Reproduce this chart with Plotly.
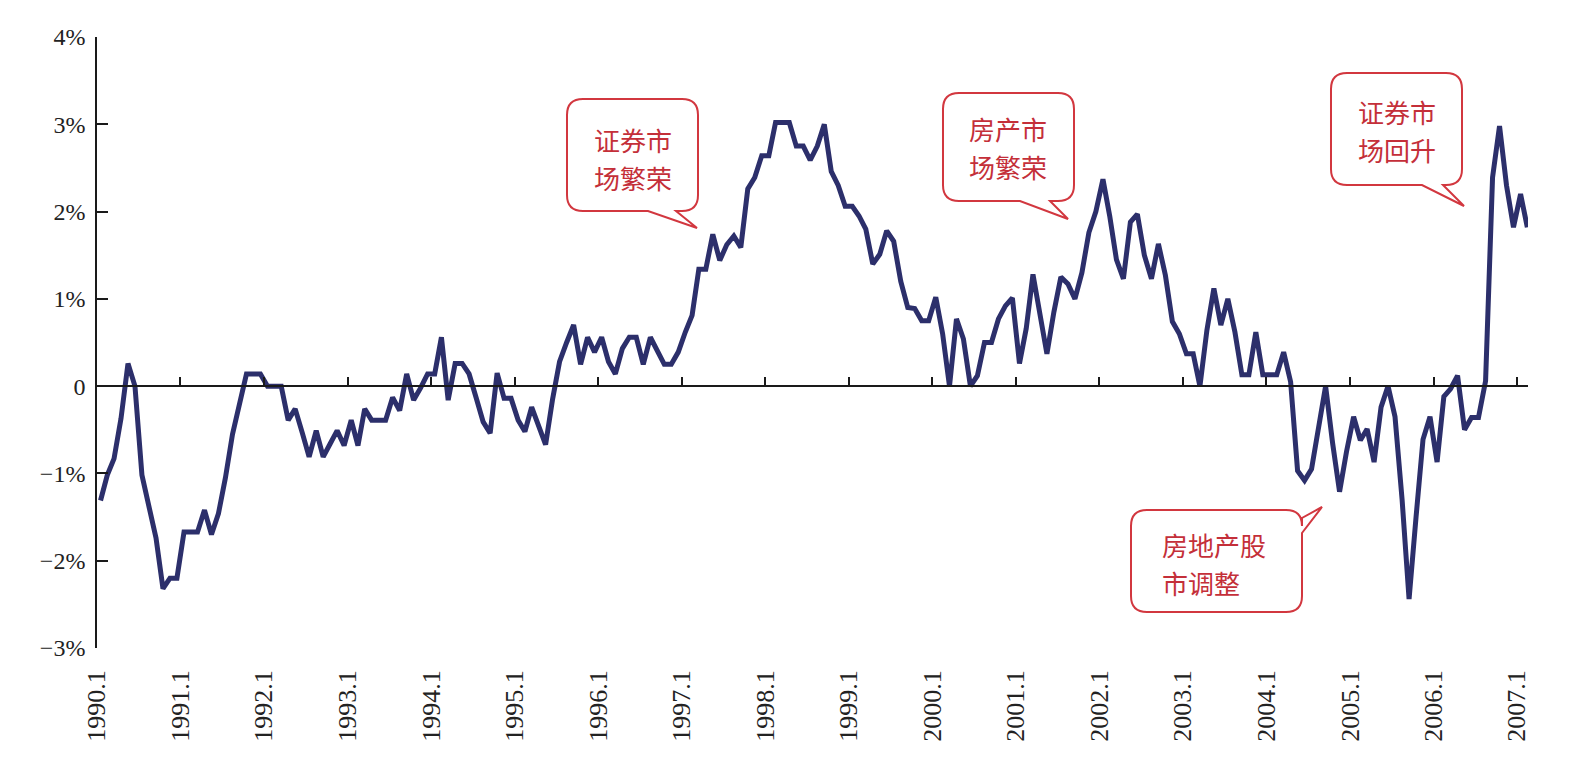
import plotly.graph_objects as go
import pandas as pd

# ---------------- data ----------------
start_month = "1990-01-01"
n_months = 206
values = [
    -1.31, -1.02, -0.83, -0.37, 0.26, 0.00, -1.02, -1.36, -1.74, -2.32, -2.20, -2.20,   # 1990
    -1.67, -1.67, -1.67, -1.42, -1.70, -1.46, -1.05, -0.55, -0.20, 0.14, 0.14, 0.14,    # 1991
    0.00, 0.00, 0.00, -0.39, -0.26, -0.53, -0.81, -0.51, -0.81, -0.66, -0.51, -0.68,    # 1992
    -0.39, -0.68, -0.26, -0.39, -0.39, -0.39, -0.13, -0.28, 0.14, -0.16, -0.02, 0.14,   # 1993
    0.14, 0.56, -0.16, 0.26, 0.26, 0.14, -0.13, -0.41, -0.54, 0.15, -0.14, -0.14,      # 1994
    -0.39, -0.52, -0.24, -0.45, -0.67, -0.15, 0.28, 0.50, 0.70, 0.25, 0.56, 0.39,      # 1995
    0.56, 0.28, 0.14, 0.43, 0.56, 0.56, 0.25, 0.56, 0.41, 0.25, 0.25, 0.39,            # 1996
    0.62, 0.81, 1.34, 1.34, 1.74, 1.44, 1.62, 1.72, 1.59, 2.26, 2.39, 2.64,            # 1997
    2.64, 3.02, 3.02, 3.02, 2.75, 2.75, 2.59, 2.75, 3.00, 2.46, 2.30, 2.06,            # 1998
    2.06, 1.95, 1.80, 1.40, 1.51, 1.78, 1.66, 1.20, 0.90, 0.89, 0.75, 0.75,            # 1999
    1.02, 0.60, 0.00, 0.77, 0.54, 0.00, 0.12, 0.50, 0.50, 0.77, 0.92, 1.01,            # 2000
    0.26, 0.66, 1.28, 0.80, 0.37, 0.85, 1.25, 1.17, 1.00, 1.30, 1.76, 2.00,            # 2001
    2.37, 1.95, 1.45, 1.23, 1.88, 1.97, 1.50, 1.23, 1.63, 1.27, 0.74, 0.60,            # 2002
    0.37, 0.37, 0.00, 0.64, 1.12, 0.70, 1.00, 0.62, 0.13, 0.13, 0.62, 0.13,            # 2003
    0.13, 0.13, 0.39, 0.05, -0.97, -1.08, -0.95, -0.48, 0.00, -0.65, -1.21, -0.75,     # 2004
    -0.35, -0.62, -0.49, -0.87, -0.24, 0.00, -0.35, -1.30, -2.44, -1.50, -0.61, -0.35, # 2005
    -0.87, -0.12, -0.03, 0.12, -0.50, -0.36, -0.36, 0.06, 2.39, 2.98, 2.30, 1.82,      # 2006
    2.20, 1.82,                                                                         # 2007
]
tick_years = list(range(1990, 2008))
x_tick_vals = [f"{y}-01-01" for y in tick_years]
x_tick_text = [f"{y}.1" for y in tick_years]
y_tick_vals = [-3, -2, -1, 0, 1, 2, 3, 4]
y_tick_text = ["\u22123%", "\u22122%", "\u22121%", "0", "1%", "2%", "3%", "4%"]

callout_lines = [
    ["证券市", "场繁荣"],
    ["房产市", "场繁荣"],
    ["证券市", "场回升"],
    ["房地产股", "市调整"],
]

months = pd.date_range(start_month, periods=n_months, freq="MS")

# ---------------- layout geometry ----------------
W, H = 1586, 770
L, R, T, B = 97, 58, 37, 122
PW, PH = W - L - R, H - T - B
LINE_COLOR = "#2C2F6B"
RED = "#D2373F"
TEXT_RED = "#C42F39"
LINE_GAP = 38


def fx(px):
    return (px - L) / PW


def fy(py):
    return 1 - (py - T) / PH


def callout_path(x0, y0, x1, y1, r, side, a, b, tip):
    """Rounded box with a tail, pixel coords -> paper path."""
    cmds = []

    def M(x, y):
        cmds.append(f"M{fx(x):.5f},{fy(y):.5f}")

    def Lto(x, y):
        cmds.append(f"L{fx(x):.5f},{fy(y):.5f}")

    def Q(cx, cy, x, y):
        cmds.append(f"Q{fx(cx):.5f},{fy(cy):.5f} {fx(x):.5f},{fy(y):.5f}")

    M(x0 + r, y0)
    Lto(x1 - r, y0)
    Q(x1, y0, x1, y0 + r)
    if side == "right":
        Lto(x1, a)
        Lto(tip[0], tip[1])
        Lto(x1, b)
    Lto(x1, y1 - r)
    Q(x1, y1, x1 - r, y1)
    if side == "bottom":
        Lto(b, y1)
        Lto(tip[0], tip[1])
        Lto(a, y1)
    Lto(x0 + r, y1)
    Q(x0, y1, x0, y1 - r)
    Lto(x0, y0 + r)
    Q(x0, y0, x0 + r, y0)
    cmds.append("Z")
    return " ".join(cmds)


callouts = [
    dict(box=(567, 99, 698, 211), side="bottom", a=648, b=676, tip=(697, 228),
         tpos=(633, 158), anchor="center", lines=callout_lines[0]),
    dict(box=(943, 93, 1074, 201), side="bottom", a=1020, b=1050, tip=(1068, 219),
         tpos=(1008, 147), anchor="center", lines=callout_lines[1]),
    dict(box=(1331, 73, 1462, 185), side="bottom", a=1422, b=1443, tip=(1464, 206),
         tpos=(1397, 131), anchor="center", lines=callout_lines[2]),
    dict(box=(1131, 510, 1302, 612), side="right", a=518, b=533, tip=(1322, 507),
         tpos=(1160, 563), anchor="left", lines=callout_lines[3]),
]

fig = go.Figure()
fig.add_trace(go.Scatter(
    x=months, y=values, mode="lines",
    xperiod="M1", xperiodalignment="middle",
    line=dict(color=LINE_COLOR, width=5),
    hoverinfo="skip", showlegend=False,
))
# empty trace so that the label axis (x2) is registered and drawn
fig.add_trace(go.Scatter(
    x=[], y=[], xaxis="x2", yaxis="y", mode="lines",
    hoverinfo="skip", showlegend=False,
))

x_range = ["1990-01-01", "2007-02-18"]
serif = "Liberation Serif, Times New Roman, serif"

shapes = []
annotations = []
for c in callouts:
    x0, y0, x1, y1 = c["box"]
    shapes.append(dict(
        type="path", xref="paper", yref="paper",
        path=callout_path(x0, y0, x1, y1, 16, c["side"], c["a"], c["b"], c["tip"]),
        line=dict(color=RED, width=2), fillcolor="white", layer="above",
    ))
    n = len(c["lines"])
    for j, line in enumerate(c["lines"]):
        ly = c["tpos"][1] + (j - (n - 1) / 2) * LINE_GAP
        annotations.append(dict(
            xref="paper", yref="paper", x=fx(c["tpos"][0]), y=fy(ly),
            text=line, showarrow=False, xanchor=c["anchor"], yanchor="middle",
            font=dict(family="Noto Sans CJK SC", size=26, color=TEXT_RED),
        ))

fig.update_layout(
    width=W, height=H,
    margin=dict(l=L, r=R, t=T, b=B, pad=0),
    paper_bgcolor="white", plot_bgcolor="white",
    showlegend=False,
    xaxis=dict(
        type="date", range=x_range,
        anchor="free", position=fy(T + PH * 4 / 7),
        showline=True, linecolor="#1a1a1a", linewidth=1.6,
        ticks="inside", ticklen=8, tickwidth=1.6, tickcolor="#1a1a1a",
        tickvals=x_tick_vals, showticklabels=False,
        showgrid=False, zeroline=False,
    ),
    xaxis2=dict(
        type="date", range=x_range, overlaying="x", anchor="y", side="bottom",
        tickvals=x_tick_vals, ticktext=x_tick_text, tickangle=-90,
        ticks="", showline=False, showgrid=False, zeroline=False,
        ticklabelstandoff=16,
        tickfont=dict(family=serif, size=26, color="#222222"),
    ),
    yaxis=dict(
        range=[-3, 4], tickvals=y_tick_vals, ticktext=y_tick_text,
        showline=True, linecolor="#1a1a1a", linewidth=1.6,
        ticks="inside", ticklen=11, tickwidth=1.6, tickcolor="#1a1a1a",
        showgrid=False, zeroline=False,
        ticklabelstandoff=5,
        tickfont=dict(family=serif, size=24, color="#222222"),
    ),
    shapes=shapes,
    annotations=annotations,
)

fig.write_html("out.html")
